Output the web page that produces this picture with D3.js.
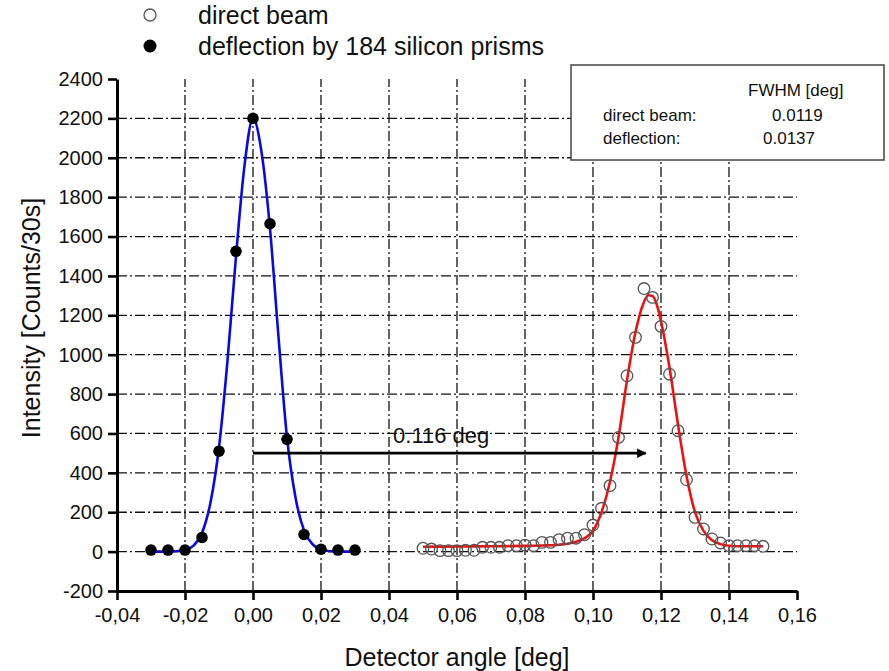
<!DOCTYPE html>
<html>
<head>
<meta charset="utf-8">
<script src="https://cdn.jsdelivr.net/npm/d3@7"></script>
<style>
    body { margin: 0; background: #fff; }
    text { font-family: "Liberation Sans", Arial, sans-serif; fill: #111; }
</style>
</head>
<body>
<script>
// deflected beam, filled circles (blue fit)
let deflX = [-0.03, -0.025, -0.02, -0.015, -0.01, -0.005, 0, 0.005, 0.01, 0.015, 0.02, 0.025, 0.03];
let deflY = [8, 8, 8, 72, 510, 1525, 2200, 1665, 570, 87, 12, 8, 8];

// direct beam, open circles (red fit)
let directX = [0.05, 0.0525, 0.055, 0.0575, 0.06, 0.0625, 0.065, 0.0675, 0.07, 0.0725,
    0.075, 0.0775, 0.08, 0.0825, 0.085, 0.0875, 0.09, 0.0925, 0.095, 0.0975,
    0.1, 0.1025, 0.105, 0.1075, 0.11, 0.1125, 0.115, 0.1175, 0.12, 0.1225,
    0.125, 0.1275, 0.13, 0.1325, 0.135, 0.1375, 0.14, 0.1425, 0.145, 0.1475, 0.15];
let directY = [17, 13, 5, 5, 5, 7, 7, 22, 22, 22,
    30, 30, 33, 30, 47, 47, 61, 68, 68, 86,
    135, 220, 335, 580, 893, 1088, 1336, 1291, 1144, 901,
    614, 365, 174, 115, 64, 44, 30, 30, 30, 30, 27];

// fitted curves
let blueFitX = [-0.03, -0.025, -0.02, -0.0175, -0.015, -0.0125, -0.01, -0.0075, -0.005, -0.0025,
    0, 0.0025, 0.005, 0.0075, 0.01, 0.0125, 0.015, 0.0175, 0.02, 0.025, 0.03];
let blueFitY = [0, 0, 8, 30, 95, 250, 530, 970, 1500, 1960,
    2200, 2030, 1640, 1090, 580, 275, 108, 38, 10, 0, 0];

let redFitX = [0.05, 0.06, 0.07, 0.08, 0.085, 0.09, 0.0925, 0.095, 0.0975, 0.1,
    0.1025, 0.105, 0.1075, 0.11, 0.1125, 0.115, 0.11625, 0.1175, 0.11875, 0.12,
    0.1225, 0.125, 0.1275, 0.13, 0.1325, 0.135, 0.1375, 0.14, 0.145, 0.15];
let redFitY = [25, 26, 27, 29, 31, 35, 40, 50, 68, 105,
    200, 355, 580, 870, 1115, 1268, 1302, 1298, 1255, 1170,
    935, 645, 385, 200, 105, 58, 38, 30, 27, 27];

let xTicks = [-0.04, -0.02, 0, 0.02, 0.04, 0.06, 0.08, 0.1, 0.12, 0.14, 0.16];
let yTicks = [-200, 0, 200, 400, 600, 800, 1000, 1200, 1400, 1600, 1800, 2000, 2200, 2400];

let legendLabels = ['direct beam', 'deflection by 184 silicon prisms'];
let fwhmRows = [['direct beam:', '0.0119'], ['deflection:', '0.0137']];
let shift = {from: 0, to: 0.1155, level: 500, label: '0.116 deg'};

let width = 889, height = 671;
let margin = {top: 79, right: 92, bottom: 80, left: 117};

let svg = d3.select('body').append('svg')
    .attr('width', width)
    .attr('height', height);

let x = d3.scaleLinear().domain([-0.04, 0.16]).range([margin.left, width - margin.right]);
let y = d3.scaleLinear().domain([-200, 2400]).range([height - margin.bottom, margin.top]);

// annotation text sits under the grid
svg.append('text')
    .attr('x', x(0.0412))
    .attr('y', y(553))
    .style('font-size', '22px')
    .text(shift.label);

// grid
let grid = svg.append('g').attr('class', 'grid')
    .style('stroke', '#111')
    .style('stroke-width', 1.3)
    .style('stroke-dasharray', '10,3,2,3');

grid.selectAll('.vgrid').data(xTicks.slice(1, -1)).enter().append('line')
    .attr('class', 'vgrid')
    .attr('x1', d => x(d)).attr('x2', d => x(d))
    .attr('y1', y(-200)).attr('y2', y(2400));

grid.selectAll('.hgrid').data(yTicks.slice(1, -1)).enter().append('line')
    .attr('class', 'hgrid')
    .attr('x1', x(-0.04)).attr('x2', x(0.16))
    .attr('y1', d => y(d)).attr('y2', d => y(d));

// FWHM box
let box = svg.append('g').attr('transform', 'translate(571,65)');
box.append('rect')
    .attr('width', 313).attr('height', 95)
    .style('fill', '#fff')
    .style('stroke', '#444')
    .style('stroke-width', 1.5);
box.append('text').attr('x', 177).attr('y', 31).style('font-size', '17px').text('FWHM [deg]');
fwhmRows.forEach((r, i) => {
    box.append('text').attr('x', 32).attr('y', 56 + i * 23).style('font-size', '17px').text(r[0]);
    box.append('text').attr('x', i == 0 ? 201 : 192).attr('y', 56 + i * 23).style('font-size', '17px').text(r[1]);
});

// fitted curves
let line = d3.line()
    .x(d => x(d[0]))
    .y(d => y(d[1]))
    .curve(d3.curveMonotoneX);

svg.append('path')
    .datum(d3.zip(blueFitX, blueFitY))
    .attr('d', line)
    .style('fill', 'none')
    .style('stroke', '#0a0ae0')
    .style('stroke-width', 2.6);

svg.append('path')
    .datum(d3.zip(redFitX, redFitY))
    .attr('d', line)
    .style('fill', 'none')
    .style('stroke', '#ee1111')
    .style('stroke-width', 2.6);

// points
svg.selectAll('.defl').data(d3.zip(deflX, deflY)).enter().append('circle')
    .attr('class', 'defl')
    .attr('cx', d => x(d[0]))
    .attr('cy', d => y(d[1]))
    .attr('r', 5.8)
    .style('fill', '#000');

svg.selectAll('.direct').data(d3.zip(directX, directY)).enter().append('circle')
    .attr('class', 'direct')
    .attr('cx', d => x(d[0]))
    .attr('cy', d => y(d[1]))
    .attr('r', 5.8)
    .style('fill', 'none')
    .style('stroke', '#555')
    .style('stroke-width', 1.3);

// shift arrow
svg.append('defs').append('marker')
    .attr('id', 'head')
    .attr('viewBox', '0 0 10 10')
    .attr('refX', 9).attr('refY', 5)
    .attr('markerWidth', 4).attr('markerHeight', 3.4)
    .attr('markerUnits', 'strokeWidth')
    .attr('orient', 'auto')
    .append('path')
    .attr('d', 'M0,0L10,5L0,10Z')
    .style('fill', '#000');

svg.append('line')
    .attr('x1', x(shift.from)).attr('x2', x(shift.to))
    .attr('y1', y(shift.level)).attr('y2', y(shift.level))
    .style('stroke', '#000')
    .style('stroke-width', 2.8)
    .attr('marker-end', 'url(#head)');

// axes
function commaFmt(d) {
    return d3.format('.2f')(d).replace('.', ',').replace('−', '-');
}

let xAxis = svg.append('g')
    .attr('transform', 'translate(0,' + y(-200) + ')');
xAxis.call(d3.axisBottom(x).tickValues(d3.range(-0.03, 0.16, 0.02)).tickSize(6).tickFormat(''));
xAxis.call(d3.axisBottom(x).tickValues(xTicks).tickSize(9).tickSizeOuter(0).tickPadding(8).tickFormat(commaFmt));

let yAxis = svg.append('g')
    .attr('transform', 'translate(' + x(-0.04) + ',0)');
yAxis.call(d3.axisLeft(y).tickValues(d3.range(-100, 2400, 200)).tickSize(6).tickFormat(''));
yAxis.call(d3.axisLeft(y).tickValues(yTicks).tickSize(9).tickSizeOuter(0).tickPadding(5)
    .tickFormat(d => d3.format('d')(d).replace('−', '-')));

svg.selectAll('.domain').style('stroke', '#000').style('stroke-width', 3);
svg.selectAll('.tick line').style('stroke', '#000').style('stroke-width', 2.6);
svg.selectAll('.tick text')
    .style('font-family', '"Liberation Sans", Arial, sans-serif')
    .style('font-size', '20px')
    .style('fill', '#111');

svg.append('text')
    .attr('x', (x(-0.04) + x(0.16)) / 2)
    .attr('y', 666)
    .attr('text-anchor', 'middle')
    .style('font-size', '25px')
    .text('Detector angle [deg]');

svg.append('text')
    .attr('transform', 'translate(40,318) rotate(-90)')
    .attr('text-anchor', 'middle')
    .style('font-size', '25px')
    .text('Intensity [Counts/30s]');

// legend
let legend = svg.append('g').attr('transform', 'translate(150,0)');
legend.append('circle').attr('cx', 0).attr('cy', 15).attr('r', 6)
    .style('fill', 'none').style('stroke', '#555').style('stroke-width', 1.3);
legend.append('circle').attr('cx', 0).attr('cy', 46).attr('r', 6.5)
    .style('fill', '#000');
legendLabels.forEach((t, i) => {
    legend.append('text')
        .attr('x', 48).attr('y', 24 + i * 31)
        .style('font-size', '25px')
        .text(t);
});
</script>
</body>
</html>
